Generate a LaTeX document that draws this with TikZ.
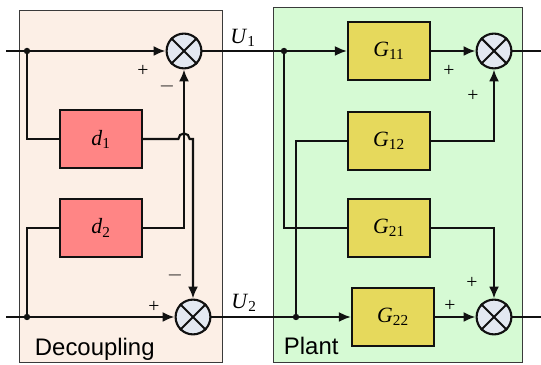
\documentclass[tikz,border=0pt]{standalone}
\usepackage{fontspec}
\setmainfont{Liberation Serif}
\newfontfamily\labelfont{Liberation Sans}
\usepackage{xcolor}
\usepackage{tikz}
\usetikzlibrary{arrows.meta}
\definecolor{ink}{HTML}{111111}
\definecolor{peach}{HTML}{FCEFE6}
\definecolor{mint}{HTML}{D6FAD4}
\definecolor{salmon}{HTML}{FF8585}
\definecolor{khaki}{HTML}{E6D95C}
\definecolor{haze}{HTML}{E3E8F1}
\definecolor{rim}{HTML}{3A3A3A}

\begin{document}
\begin{tikzpicture}[x=0.025cm,y=-0.025cm,
  every node/.style={font=\fontsize{15.5}{18}\selectfont},
  blk/.style={draw=ink,line width=1.5pt,minimum width=2.05cm,minimum height=1.47cm,inner sep=0pt},
  sumnode/.style={circle,draw=ink,line width=1.5pt,fill=haze,minimum size=0.87cm,inner sep=0pt},
  sgn/.style={font=\fontsize{14}{16}\selectfont,inner sep=0pt},
  frame/.style={draw=rim,line width=0.7pt},
  ln/.style={line width=1.5pt,ink},
  arr/.style={-{Latex[length=3mm,width=2.5mm]},line width=1.5pt,ink},
  dot/.style={circle,fill=ink,inner sep=0pt,minimum size=1.6mm}]
  \useasboundingbox (0,0) rectangle (541,365);
  % frames
  \draw[frame,fill=peach] (19,10) rectangle (222,362);
  \draw[frame,fill=mint] (273,7) rectangle (522,362);
  \node[anchor=base west,font=\labelfont\fontsize{17}{19}\selectfont] (declab) at (30,356) {Decoupling};
  \node[anchor=base west,font=\labelfont\fontsize{17}{19}\selectfont] (plantlab) at (279,355) {Plant};
  % blocks
  \node[blk,fill=salmon] (d1) at (101,139) {\textit{d}\textsubscript{1}};
  \node[blk,fill=salmon] (d2) at (101,228) {\textit{d}\textsubscript{2}};
  \node[blk,fill=khaki] (g11) at (389,51) {\textit{G}\textsubscript{11}};
  \node[blk,fill=khaki] (g12) at (389,141) {\textit{G}\textsubscript{12}};
  \node[blk,fill=khaki] (g21) at (389,228) {\textit{G}\textsubscript{21}};
  \node[blk,fill=khaki] (g22) at (393,317) {\textit{G}\textsubscript{22}};
  % summing junctions
  \node[sumnode] (s1) at (184,51) {};
  \node[sumnode] (s2) at (193,317) {};
  \node[sumnode] (s3) at (494,51) {};
  \node[sumnode] (s4) at (494,317) {};
  \foreach \s in {s1,s2,s3,s4} {
    \draw[ln] (\s.45) -- (\s.225);
    \draw[ln] (\s.135) -- (\s.315);
  }
  % branch points and ends
  \coordinate (in1) at (6,51);
  \coordinate (in2) at (6,317);
  \coordinate (out1) at (541,51);
  \coordinate (out2) at (541,317);
  \node[dot] (p1) at (27,51) {};
  \node[dot] (p2) at (27,317) {};
  \node[dot] (p3) at (284,51) {};
  \node[dot] (p4) at (296,317) {};
  \coordinate (hop) at (s1.south |- d1.east);
  % decoupling
  \draw[ln] (in1) -- (p1);
  \draw[arr] (p1) -- (s1);
  \draw[ln] (p1) |- (d1);
  \draw[ln] (in2) -- (p2);
  \draw[arr] (p2) -- (s2);
  \draw[ln] (p2) |- (d2);
  \draw[arr] (d2.east) -| (s1.south);
  \draw[arr] (d1.east) -- ([xshift=-1.4mm]hop) arc[start angle=180,end angle=360,radius=5.6] -| (s2.north);
  % plant
  \draw[arr] (s1) -- (g11);
  \draw[arr] (s2) -- (g22);
  \draw[ln] (p3) |- (g21.west);
  \draw[ln] (p4) |- (g12.west);
  \draw[arr] (g11) -- (s3);
  \draw[arr] (g12.east) -| (s3.south);
  \draw[arr] (g21.east) -| (s4.north);
  \draw[arr] (g22) -- (s4);
  \draw[ln] (s3) -- (out1);
  \draw[ln] (s4) -- (out2);
  % labels
  \node (u1) at (243,38) {\textit{U}\textsubscript{1}};
  \node (u2) at (244,303) {\textit{U}\textsubscript{2}};
  \node[sgn] (pl1) at (143,71) {+};
  \node[sgn] (mi1) at (167,86) {$-$};
  \node[sgn] (mi2) at (175,275) {$-$};
  \node[sgn] (pl2) at (154,307) {+};
  \node[sgn] (pl3) at (449,71) {+};
  \node[sgn] (pl4) at (473,96) {+};
  \node[sgn] (pl5) at (472,283) {+};
  \node[sgn] (pl6) at (450,306) {+};
\end{tikzpicture}
\end{document}
